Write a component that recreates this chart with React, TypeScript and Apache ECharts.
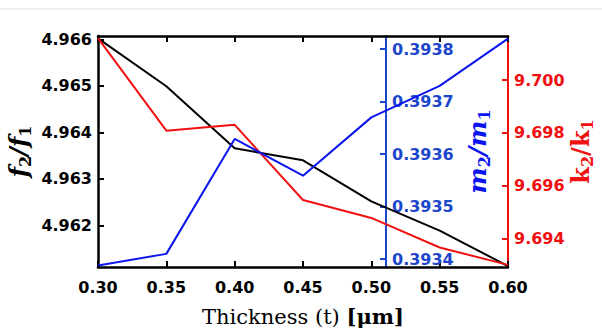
import React, { useEffect, useRef } from "react";
import * as echarts from "echarts";

const thickness = [0.3, 0.35, 0.4, 0.45, 0.5, 0.55, 0.6];
const fRatio = [4.96602, 4.96499, 4.96366, 4.9634, 4.96252, 4.96189, 4.96113];
const mRatio = [0.393388, 0.39341, 0.393629, 0.393559, 0.39367, 0.39373, 0.39382];
const kRatio = [9.70159, 9.69808, 9.6983, 9.69545, 9.69477, 9.69365, 9.69299];
const fTicks = [4.962, 4.963, 4.964, 4.965, 4.966];
const mTicks = [0.3934, 0.3935, 0.3936, 0.3937, 0.3938];
const kTicks = [9.694, 9.696, 9.698, 9.7];

const BLUE_LINE = "#0a14ee";
const BLUE_TEXT = "#1c46cc";
const RED = "#f01010";

function ratioName(a: string, color: string, italic: boolean, size: number) {
  const base = {
    fontFamily: "DejaVu Serif",
    fontStyle: italic ? "italic" : "normal",
    fontWeight: "bold",
    color,
    lineHeight: 30,
  };
  return {
    text: `{i|${a}}{s|2}{i|/${a}}{s|1}`,
    rich: {
      i: { ...base, fontSize: size, verticalAlign: "middle" },
      s: { ...base, fontSize: 16, verticalAlign: "bottom", fontStyle: "normal" },
    },
  };
}

export default function App() {
  const ref = useRef<HTMLDivElement>(null);
  useEffect(() => {
    const chart = echarts.init(ref.current!, null, { renderer: "svg" });
    const labelFont = {
      fontFamily: "DejaVu Sans",
      fontWeight: "bold" as const,
      fontSize: 16,
    };
    const pair = (d: number[], v: number[]) => d.map((x, i) => [x, v[i]]);
    const fN = ratioName("f", "#000", true, 24);
    const mN = ratioName("m", BLUE_LINE, true, 25);
    const kN = ratioName("k", RED, false, 24);
    chart.setOption({
      animation: false,
      backgroundColor: "#fff",
      grid: {
        left: 98,
        right: 94,
        top: 36,
        bottom: 68,
        containLabel: false,
        outerBoundsMode: "none",
      },
      graphic: [
        {
          type: "line",
          shape: { x1: 0, y1: 9, x2: 602, y2: 9 },
          style: { stroke: "#e4e4e4", lineWidth: 1 },
        },
      ],
      xAxis: [
        {
          type: "value",
          min: 0.3,
          max: 0.6,
          interval: 0.05,
          position: "bottom",
          axisLine: { show: true, lineStyle: { color: "#000", width: 2.5 } },
          axisTick: { show: true, inside: true, length: 6, lineStyle: { color: "#000", width: 2 } },
          axisLabel: {
            ...labelFont,
            color: "#000",
            margin: 12,
            formatter: (v: number) => v.toFixed(2),
          },
          splitLine: { show: false },
          name: "{n|Thickness (t) }{b|[μm]}",
          nameLocation: "middle",
          nameGap: 39,
          nameMoveOverlap: false,
          nameTextStyle: {
            rich: {
              n: { fontFamily: "DejaVu Serif", fontSize: 21, color: "#000" },
              b: { fontFamily: "DejaVu Serif", fontSize: 21, fontWeight: "bold", color: "#000" },
            },
          },
        },
        {
          type: "value",
          min: 0.3,
          max: 0.6,
          interval: 0.05,
          position: "top",
          axisLine: { show: true, lineStyle: { color: "#000", width: 2.5 } },
          axisTick: { show: true, inside: true, length: 6, lineStyle: { color: "#000", width: 2 } },
          axisLabel: { show: false },
          splitLine: { show: false },
        },
      ],
      yAxis: [
        {
          type: "value",
          position: "left",
          min: 4.96111,
          max: 4.96607,
          axisLine: { show: true, lineStyle: { color: "#000", width: 2.5 } },
          axisTick: {
            show: true,
            inside: true,
            length: 6,
            customValues: fTicks,
            lineStyle: { color: "#000", width: 2 },
          },
          axisLabel: {
            ...labelFont,
            color: "#000",
            margin: 6,
            customValues: fTicks,
            formatter: (v: number) => v.toFixed(3),
          },
          splitLine: { show: false },
          name: fN.text,
          nameLocation: "middle",
          nameGap: 65,
          nameRotate: 90,
          nameMoveOverlap: false,
          nameTextStyle: { rich: fN.rich },
        },
        {
          type: "value",
          position: "right",
          offset: -122,
          min: 0.393385,
          max: 0.393825,
          axisLine: { show: true, lineStyle: { color: BLUE_TEXT, width: 2 } },
          axisTick: {
            show: true,
            inside: true,
            length: 6,
            customValues: mTicks,
            lineStyle: { color: BLUE_TEXT, width: 2 },
          },
          axisLabel: {
            ...labelFont,
            color: BLUE_TEXT,
            margin: 6,
            customValues: mTicks,
            formatter: (v: number) => v.toFixed(4),
          },
          splitLine: { show: false },
          name: mN.text,
          nameLocation: "middle",
          nameGap: 76,
          nameRotate: 90,
          nameMoveOverlap: false,
          nameTextStyle: { rich: mN.rich },
        },
        {
          type: "value",
          position: "right",
          min: 9.69291,
          max: 9.70167,
          axisLine: { show: true, lineStyle: { color: RED, width: 2 } },
          axisTick: {
            show: true,
            inside: true,
            length: 6,
            customValues: kTicks,
            lineStyle: { color: RED, width: 2 },
          },
          axisLabel: {
            ...labelFont,
            color: RED,
            margin: 6,
            customValues: kTicks,
            formatter: (v: number) => v.toFixed(3),
          },
          splitLine: { show: false },
          name: kN.text,
          nameLocation: "middle",
          nameGap: 57,
          nameRotate: 90,
          nameMoveOverlap: false,
          nameTextStyle: { rich: kN.rich },
        },
      ],
      series: [
        {
          type: "line",
          xAxisIndex: 0,
          yAxisIndex: 0,
          data: pair(thickness, fRatio),
          showSymbol: false,
          lineStyle: { color: "#000", width: 2 },
          itemStyle: { color: "#000" },
        },
        {
          type: "line",
          xAxisIndex: 0,
          yAxisIndex: 2,
          data: pair(thickness, kRatio),
          showSymbol: false,
          lineStyle: { color: RED, width: 2 },
          itemStyle: { color: RED },
        },
        {
          type: "line",
          xAxisIndex: 0,
          yAxisIndex: 1,
          data: pair(thickness, mRatio),
          showSymbol: false,
          lineStyle: { color: BLUE_LINE, width: 2 },
          itemStyle: { color: BLUE_LINE },
        },
      ],
    });
    return () => chart.dispose();
  }, []);
  return (
    <div
      ref={ref}
      style={{ position: "absolute", left: 0, top: 0, width: 602, height: 335 }}
    />
  );
}
